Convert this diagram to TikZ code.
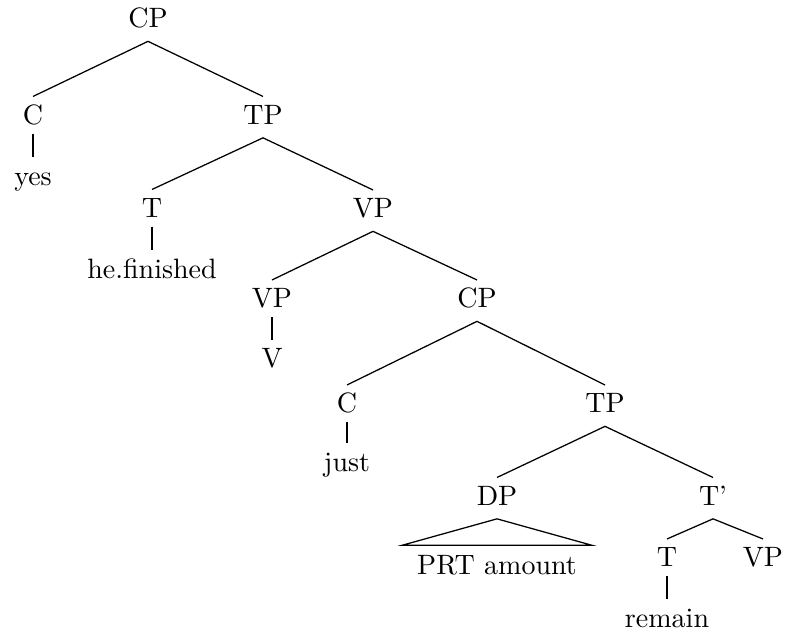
\documentclass[tikz,border=0pt]{standalone}
\begin{document}
\begin{tikzpicture}[x=0.357pt,y=-0.357pt,
  lbl/.style={anchor=base,inner xsep=1pt,inner ysep=2.8pt,text height=6.83pt,text depth=1.94pt},
  roof/.style={anchor=base,inner xsep=5.3pt,inner ysep=3.2pt,text height=6.83pt,text depth=1.94pt},
  edge/.style={line width=0.45pt},
  stem/.style={edge,shorten <=-1.5pt}]
\useasboundingbox (0,0) rectangle (785,636);
% nodes, placed at their baselines
\node[lbl] (cp1) at (148,27.5) {CP};
\node[lbl] (c1) at (33,124) {C};
\node[lbl] (yes) at (33,185) {yes};
\node[lbl] (tp1) at (263,124) {TP};
\node[lbl] (t1) at (152,217) {T};
\node[lbl] (hef) at (152,278) {he.finished};
\node[lbl] (vp1) at (373,217.5) {VP};
\node[lbl] (vp2) at (272,307.5) {VP};
\node[lbl] (v) at (272,367.5) {V};
\node[lbl] (cp2) at (477,307.5) {CP};
\node[lbl] (c2) at (347,412.5) {C};
\node[lbl] (just) at (347,471) {just};
\node[lbl] (tp2) at (605,412.5) {TP};
\node[lbl] (dp) at (497,505) {DP};
\node[roof] (prt) at (497,574) {PRT amount};
\node[lbl] (tbar) at (713,505) {T'};
\node[lbl] (t3) at (667,566.5) {T};
\node[lbl] (vp3) at (763,566.5) {VP};
\node[lbl] (remain) at (667,627) {remain};
% branches
\draw[edge] (c1.north) -- (cp1.south) -- (tp1.north);
\draw[stem] (c1.south) -- (yes.north);
\draw[edge] (t1.north) -- (tp1.south) -- (vp1.north);
\draw[stem] (t1.south) -- (hef.north);
\draw[edge] (vp2.north) -- (vp1.south) -- (cp2.north);
\draw[stem] (vp2.south) -- (v.north);
\draw[edge] (c2.north) -- (cp2.south) -- (tp2.north);
\draw[stem] (c2.south) -- (just.north);
\draw[edge] (dp.north) -- (tp2.south) -- (tbar.north);
\draw[edge] (dp.south) -- (prt.north west) -- (prt.north east) -- cycle;
\draw[edge] (t3.north) -- (tbar.south) -- (vp3.north);
\draw[stem] (t3.south) -- (remain.north);
\end{tikzpicture}
\end{document}
